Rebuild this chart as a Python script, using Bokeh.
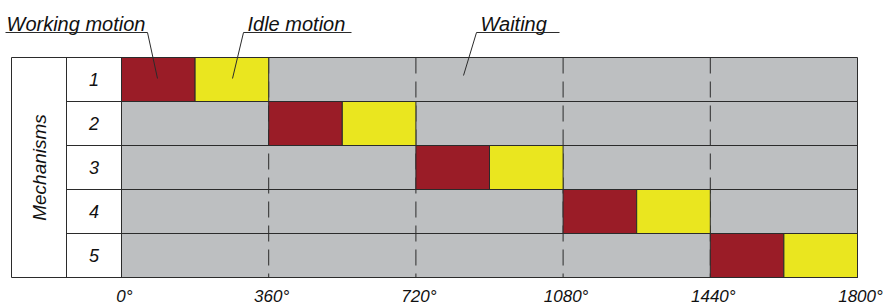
import numpy as np
from bokeh.plotting import figure
from bokeh.models import Range1d
from bokeh.core.properties import value
from bokeh.embed import file_html
from bokeh.resources import INLINE

# ---------------- data ----------------
mechanisms = ["1", "2", "3", "4", "5"]
working_start = [0, 360, 720, 1080, 1440]
working_len = [180, 180, 180, 180, 180]
idle_len = [180, 180, 180, 180, 180]
cycle_start = 0
cycle_end = 1800
tick_values = [0, 360, 720, 1080, 1440, 1800]
tick_labels = ["0°", "360°", "720°", "1080°", "1440°", "1800°"]
dash_values = [360, 720, 1080, 1440]
annotation_labels = ["Working motion", "Idle motion", "Waiting"]
axis_title = "Mechanisms"

# ---------------- layout ----------------
OFF = 0                      # page offset of the canvas
W, H = 886, 308
PX0, PX1 = 121, 857          # page x of 0 deg and 1800 deg
PY0, ROW = 57, 44            # page y of table top, row height
C1, C2 = 11, 66              # page x of table column edges
S = (PX1 - PX0) / (cycle_end - cycle_start)


def dx(px):
    return (px - PX0) / S


def dy(py):
    return (py - PY0) / ROW


p = figure(width=W, height=H,
           x_range=Range1d(dx(OFF), dx(OFF + W)),
           y_range=Range1d(dy(OFF + H), dy(OFF)),
           output_backend="svg", toolbar_location=None,
           x_axis_type=None, y_axis_type=None, min_border=0)
p.outline_line_color = None
p.background_fill_color = "white"
p.border_fill_color = "white"

n = len(mechanisms)
row_top = [i for i in range(n)]
row_bot = [i + 1 for i in range(n)]

LINE = "#2b2b2b"
GRAY = "#BDBFC1"
RED = "#9A1C27"
YEL = "#EAE61F"
FONT = value("Liberation Sans")

# waiting background
p.quad(left=[cycle_start] * n, right=[cycle_end] * n, top=row_top, bottom=row_bot,
       fill_color=GRAY, line_color=None)

# dashed cycle lines
p.segment(x0=dash_values, x1=dash_values, y0=[0] * len(dash_values), y1=[n] * len(dash_values),
          line_color=LINE, line_width=1, line_dash="16 8")

work_end = [s + w for s, w in zip(working_start, working_len)]
idle_end = [e + i for e, i in zip(work_end, idle_len)]
p.quad(left=working_start, right=work_end, top=row_top, bottom=row_bot,
       fill_color=RED, line_color=LINE, line_width=1)
p.quad(left=work_end, right=idle_end, top=row_top, bottom=row_bot,
       fill_color=YEL, line_color=LINE, line_width=1)

# horizontal table lines
inner = list(range(1, n))
p.segment(x0=[dx(C2)] * len(inner), x1=[cycle_end] * len(inner), y0=inner, y1=inner,
          line_color=LINE, line_width=1)
p.segment(x0=[dx(C1), dx(C1)], x1=[cycle_end, cycle_end], y0=[0, n], y1=[0, n],
          line_color=LINE, line_width=1)
# vertical table lines
vx = [dx(C1), dx(C2), cycle_start, cycle_end]
p.segment(x0=vx, x1=vx, y0=[0] * 4, y1=[n] * 4, line_color=LINE, line_width=1)

# row numbers
p.text(x=[dx((C2 + PX0) / 2)] * n, y=[i + 0.5 for i in range(n)], text=mechanisms,
       text_font=FONT, text_font_style="italic", text_font_size="18px",
       text_align="center", text_baseline="middle", text_color="#111111")

# vertical title
p.text(x=[dx((C1 + C2) / 2)], y=[n / 2], text=[axis_title], angle=np.pi / 2,
       text_font=FONT, text_font_style="italic", text_font_size="19px",
       text_align="center", text_baseline="middle", text_color="#111111")

# tick labels
p.text(x=tick_values, y=[dy(296)] * len(tick_values), text=tick_labels,
       x_offset=3, text_font=FONT, text_font_style="italic", text_font_size="17px",
       text_align="center", text_baseline="middle", text_color="#111111")

# annotations with leader lines (page-pixel layout)
ann_text_x = [6, 247, 480]
ann_under = [(5, 147), (243, 351), (476, 559)]
ann_start = [147, 243, 476]
ann_tip = [(157, 78), (232, 78), (463, 75)]
p.text(x=[dx(v) for v in ann_text_x], y=[dy(23)] * 3, text=annotation_labels,
       text_font=FONT, text_font_style="italic", text_font_size="20px",
       text_align="left", text_baseline="alphabetic", text_color="#111111")
p.segment(x0=[dx(a) for a, b in ann_under], x1=[dx(b) for a, b in ann_under],
          y0=[dy(32)] * 3, y1=[dy(32)] * 3, line_color=LINE, line_width=1)
p.segment(x0=[dx(v) for v in ann_start], x1=[dx(t[0]) for t in ann_tip],
          y0=[dy(32)] * 3, y1=[dy(t[1]) for t in ann_tip], line_color=LINE, line_width=1)

open("out.html", "w").write(file_html(p, INLINE))
